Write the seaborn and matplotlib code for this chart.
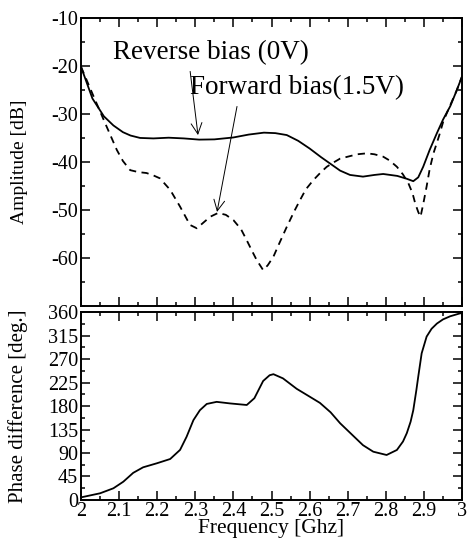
import numpy as np
import pandas as pd
import matplotlib
matplotlib.use('Agg')
import matplotlib.pyplot as plt
from matplotlib.ticker import MultipleLocator
import seaborn as sns

# Amplitude, reverse bias (0V) - solid
freq_rev = [2.00, 2.03, 2.06, 2.085, 2.11, 2.13, 2.155, 2.19, 2.23, 2.27, 2.31, 2.35,
            2.40, 2.44, 2.48, 2.51, 2.54, 2.57, 2.60, 2.63, 2.655, 2.68, 2.706, 2.74,
            2.77, 2.793, 2.83, 2.855, 2.872, 2.885, 2.898, 2.915, 2.934, 2.95, 2.969,
            2.985, 3.00]
amp_rev = [-20.2, -26.8, -30.5, -32.4, -33.8, -34.5, -35.0, -35.1, -34.95, -35.1, -35.35,
           -35.3, -34.9, -34.3, -33.9, -34.0, -34.4, -35.6, -37.2, -39.0, -40.4, -41.8,
           -42.7, -43.05, -42.7, -42.5, -42.9, -43.5, -44.0, -43.2, -41.0, -37.5, -34.0,
           -31.2, -28.4, -25.3, -22.2]

# Amplitude, forward bias (1.5V) - dashed
freq_fwd = [2.00, 2.037, 2.067, 2.094, 2.11, 2.129, 2.15, 2.172, 2.19, 2.207, 2.234, 2.26,
            2.286, 2.304, 2.32, 2.339, 2.36, 2.38, 2.40, 2.42, 2.435, 2.45, 2.461, 2.478,
            2.49, 2.505, 2.52, 2.54, 2.56, 2.575, 2.59, 2.61, 2.63, 2.645, 2.665, 2.68,
            2.70, 2.725, 2.75, 2.77, 2.793, 2.81, 2.829, 2.845, 2.859, 2.87, 2.877, 2.885,
            2.891, 2.898, 2.907, 2.915, 2.925, 2.94, 2.951, 2.97, 2.985, 3.00]
amp_fwd = [-20.2, -27.1, -32.6, -37.5, -39.8, -41.7, -42.1, -42.3, -42.8, -43.4, -45.8,
           -49.3, -53.1, -53.8, -52.7, -51.4, -50.6, -51.0, -52.1, -54.0, -56.3, -58.7,
           -60.4, -62.5, -61.5, -59.7, -57.0, -53.5, -50.2, -47.9, -45.7, -43.75, -42.1,
           -41.0, -40.0, -39.3, -38.9, -38.4, -38.2, -38.4, -38.9, -39.7, -41.0, -42.6,
           -44.4, -46.5, -48.6, -50.4, -51.4, -48.8, -45.1, -41.5, -38.2, -34.5, -31.5,
           -28.0, -25.3, -22.2]

# Phase difference
freq_ph = [2.00, 2.05, 2.085, 2.111, 2.137, 2.163, 2.199, 2.234, 2.26, 2.277, 2.295,
           2.312, 2.33, 2.356, 2.391, 2.435, 2.455, 2.478, 2.495, 2.505, 2.53, 2.566,
           2.60, 2.627, 2.655, 2.68, 2.71, 2.74, 2.767, 2.802, 2.829, 2.845, 2.855,
           2.865, 2.872, 2.88, 2.885, 2.894, 2.907, 2.92, 2.934, 2.95, 2.969, 2.995, 3.00]
phase = [5, 12.8, 22.4, 35, 52, 62.6, 70.3, 78.5, 96, 121, 153, 172, 184, 188, 185, 182,
         195, 228, 239, 241, 233, 213, 198, 186, 168, 147, 126, 105, 92.5, 86.2, 95.8,
         112, 128, 150, 172, 210, 236, 281, 313, 328, 338, 346, 352, 357.6, 358]

freq_ticks = ['2', '2.1', '2.2', '2.3', '2.4', '2.5', '2.6', '2.7', '2.8', '2.9', '3']

sns.set_theme(style='ticks')
plt.rcParams['font.family'] = ['Liberation Serif', 'DejaVu Serif']
plt.rcParams['axes.unicode_minus'] = False
plt.rcParams['axes.linewidth'] = 1.4
plt.rcParams['text.color'] = 'black'
plt.rcParams['axes.labelcolor'] = 'black'
plt.rcParams['xtick.color'] = 'black'
plt.rcParams['ytick.color'] = 'black'
plt.rcParams['axes.edgecolor'] = 'black'

fig = plt.figure(figsize=(4.71, 5.39), dpi=100)
ax1 = fig.add_axes([0.172, 0.432, 0.809, 0.535])
ax2 = fig.add_axes([0.172, 0.0724, 0.809, 0.3486])

sns.lineplot(x=freq_rev, y=amp_rev, ax=ax1, color='black', lw=1.3)
sns.lineplot(x=freq_fwd, y=amp_fwd, ax=ax1, color='black', lw=1.3, linestyle=(0, (4, 3)))
sns.lineplot(x=freq_ph, y=phase, ax=ax2, color='black', lw=1.3)

for ax in (ax1, ax2):
    ax.set_xlim(2, 3)
    ax.xaxis.set_major_locator(MultipleLocator(0.1))
    ax.xaxis.set_minor_locator(MultipleLocator(0.05))
    ax.tick_params(which='both', direction='in', top=True, right=True,
                   colors='black', width=1.1, labelsize=14.5, pad=2)
    ax.tick_params(which='major', length=6.5)
    ax.tick_params(which='minor', length=3.2)

ax1.set_ylim(-70, -10)
ax1.yaxis.set_major_locator(MultipleLocator(10))
ax1.yaxis.set_minor_locator(MultipleLocator(5))
ax1.set_yticks([-60, -50, -40, -30, -20, -10])
ax1.tick_params(labelbottom=False)
ax1.set_xlabel('')
ax1.set_ylabel('Amplitude [dB]', fontsize=14)

ax2.set_ylim(0, 360)
ax2.yaxis.set_major_locator(MultipleLocator(45))
ax2.yaxis.set_minor_locator(MultipleLocator(22.5))
ax2.set_xticks(np.arange(2, 3.01, 0.1))
ax2.set_xticklabels(freq_ticks)
ax2.tick_params(axis='x', pad=1.5)
ax2.set_xlabel('Frequency [Ghz]', fontsize=15.5, labelpad=-1.5)
ax2.set_ylabel('Phase difference [deg.]', fontsize=15)

ax1.yaxis.set_label_coords(-0.138, 0.5)
ax2.yaxis.set_label_coords(-0.138, 0.5)

ax1.annotate('Reverse bias (0V)', xy=(2.307, -34.4), xytext=(2.084, -17.3),
             fontsize=19.5, va='center', ha='left',
             arrowprops=dict(arrowstyle='->', color='black', lw=0.7,
                             shrinkA=2, shrinkB=0, relpos=(0.39, 0.0)))
ax1.annotate('Forward bias(1.5V)', xy=(2.357, -50.4), xytext=(2.286, -24.6),
             fontsize=19.5, va='center', ha='left',
             arrowprops=dict(arrowstyle='->', color='black', lw=0.7,
                             shrinkA=2, shrinkB=0, relpos=(0.225, 0.0)))

fig.savefig('out.png', dpi=100)
